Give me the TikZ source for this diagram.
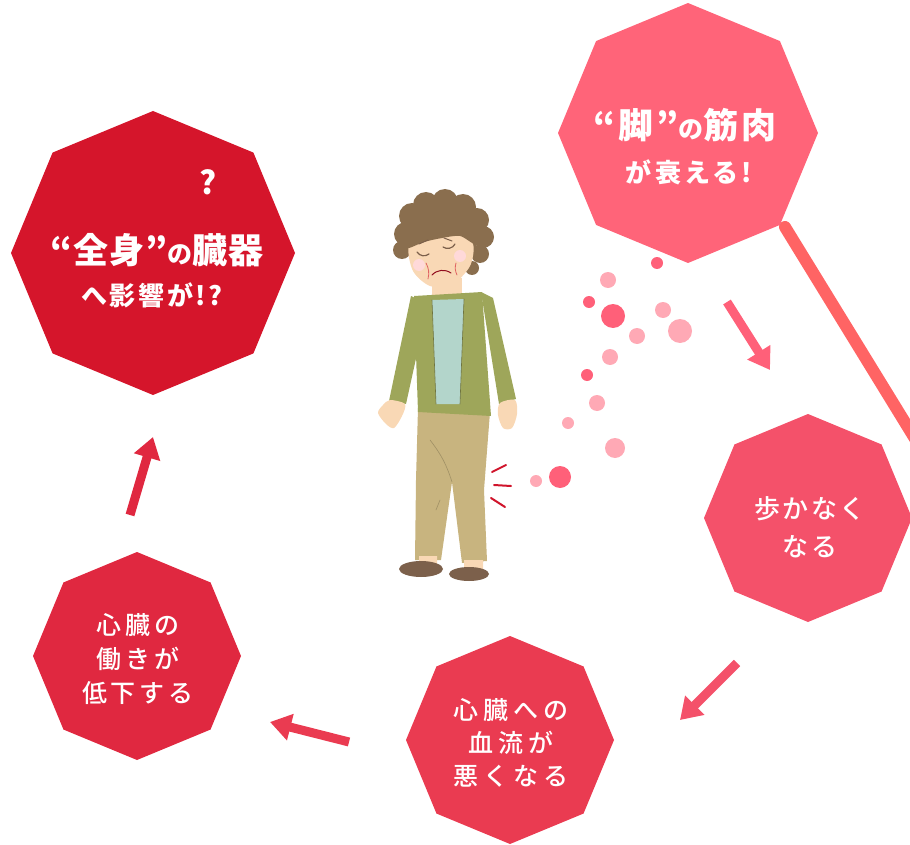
\documentclass[tikz,border=0pt]{standalone}
\usepackage{fontspec}
\newfontfamily\jp{Noto Sans CJK JP}
\newfontfamily\jpm{Noto Sans CJK JP Medium}
\usetikzlibrary{shapes.geometric,arrows.meta}

\definecolor{redA}{HTML}{D5152B}
\definecolor{redB}{HTML}{FF6479}
\definecolor{redC}{HTML}{F4516A}
\definecolor{redD}{HTML}{EA3B51}
\definecolor{redE}{HTML}{E02840}
\definecolor{dotdark}{HTML}{FF6079}
\definecolor{dotlight}{HTML}{FFA9B5}
\definecolor{coral}{HTML}{FF6464}
\definecolor{hair}{HTML}{8A6E4E}
\definecolor{skin}{HTML}{F9D8B5}
\definecolor{cardigan}{HTML}{9EA65A}
\definecolor{shirt}{HTML}{B3D5CB}
\definecolor{pants}{HTML}{C8B47F}
\definecolor{shoe}{HTML}{7C604B}
\definecolor{pain}{HTML}{D0142B}

\begin{document}
\begin{tikzpicture}[x=1pt,y=-1pt,line cap=round,line join=round,
  octa/.style={regular polygon,regular polygon sides=8,shape border rotate=22.5,inner sep=0pt,draw=none},
  txt/.style={text=white,align=center,inner sep=0pt,font=\jp\bfseries},
  step txt/.style={text=white,align=center,inner sep=0pt},
  flow/.style={line width=9pt,line cap=butt,-{Triangle[width=26pt,length=21pt]}},
  bub/.style={circle,inner sep=0pt,draw=none}]
\useasboundingbox (0,0) rectangle (910,845);
\clip (0,0) rectangle (910,845);

% stray stroke on the right
\draw[coral,line width=12pt] (785,227) -- (925,455);

% octagons
\node[octa,fill=redA,minimum size=284] (organs) at (153,253) {};
\node[octa,fill=redB,minimum size=260] (muscle) at (688,133) {};
\node[octa,fill=redC,minimum size=208] (walk) at (808,518) {};
\node[octa,fill=redD,minimum size=208] (blood) at (510,740) {};
\node[octa,fill=redE,minimum size=208] (heart) at (137,656) {};

\node[txt] (organsA) at (157,250) {\fontsize{35}{35}\selectfont\addfontfeatures{LetterSpace=3}“全身”{\fontsize{25}{25}\selectfont の}臓器};
\node[txt] (organsB) at (152,295) {\fontsize{26}{26}\selectfont\addfontfeatures{LetterSpace=10}へ影響が!?};
\node[txt] (organsQ) at (208,182) {\fontsize{32}{32}\selectfont ?};
\node[txt] (muscleA) at (685,125) {\fontsize{35}{35}\selectfont\addfontfeatures{LetterSpace=8}“脚”{\fontsize{25}{25}\selectfont の}筋肉};
\node[txt] (muscleB) at (689,172) {\fontsize{26}{26}\selectfont\addfontfeatures{LetterSpace=12}が衰える!};
\node[step txt,font=\jpm\fontsize{26}{38}\selectfont\addfontfeatures{LetterSpace=8}] (walkText) at (810,527) {歩かなく\\なる};
\node[step txt,font=\jpm\fontsize{25}{33}\selectfont\addfontfeatures{LetterSpace=20}] (bloodText) at (511,743) {心臓への\\血流が\\悪くなる};
\node[step txt,font=\jpm\fontsize{25}{34}\selectfont\addfontfeatures{LetterSpace=16}] (heartText) at (138,659) {心臓の\\働きが\\低下する};

% arrows between the steps
\coordinate (a1) at (727,302); \coordinate (b1) at (770,370);
\coordinate (a2) at (737,663); \coordinate (b2) at (680,720);
\coordinate (a3) at (349,742); \coordinate (b3) at (270,722);
\coordinate (a4) at (130,515); \coordinate (b4) at (153,437);
\draw[flow,dotdark] (a1) -- (b1);
\draw[flow,redC] (a2) -- (b2);
\draw[flow,redD] (a3) -- (b3);
\draw[flow,redE] (a4) -- (b4);

% bubbles from the knee
\foreach \x/\y/\r/\c in {657/263/6/dotdark,608/280/8/dotlight,589/302/6/dotdark,613/316/12/dotdark,
  663/310/8/dotlight,680/331/12/dotlight,637/336/8/dotlight,610/357/8/dotlight,587/375/6/dotdark,
  597/403/8/dotlight,568/423/6/dotlight,615/448/10/dotlight,560/477/11/dotdark,536/481/6/dotlight}
  \fill[\c] (\x,\y) circle[radius=\r];

% woman: curly hair
\foreach \x/\y/\r in {406/234/12,412/216/13,426/205/13,445/202/13,463/207/13,477/220/12,483/237/11,480/254/9,
  472/268/7,402/250/9}
  \fill[hair] (\x,\y) circle[radius=\r];
\fill[hair] (442,238) ellipse[x radius=36,y radius=28];
\fill[skin] (432,278) rectangle (462,303);
\fill[skin] plot[smooth cycle] coordinates {(409,246) (428,234) (458,231) (473,244) (470,266) (452,285) (430,286) (413,271)};
\fill[hair] plot[smooth cycle] coordinates {(407,248) (418,230) (445,222) (470,228) (475,244) (460,236) (442,238) (424,242)};
\fill[pink!60] (419,265) circle[radius=6] (460,256) circle[radius=6];
\draw[shoe,line width=1.2pt] (417,252) to[bend right=50] (429,254);
\draw[shoe,line width=1.2pt] (443,247) to[bend right=50] (455,244);
\draw[shoe,line width=1pt] (419,244) -- (428,240) (444,238) -- (452,241);
\draw[pain!70!black,line width=1pt] (432,275) to[bend left=40] (451,273);
\draw[pain!60!skin,line width=0.8pt] (426,263) to[bend left=20] (428,279) (456,263) to[bend right=20] (457,275);
% arms
\fill[cardigan] (411,296) -- (428,304) -- (406,404) -- (389,401) -- cycle;
\fill[cardigan] (481,292) -- (493,298) -- (516,399) -- (499,404) -- cycle;
\fill[skin] plot[smooth cycle] coordinates {(390,400) (405,404) (402,416) (394,428) (386,424) (378,413) (383,405)};
\fill[skin] plot[smooth cycle] coordinates {(500,403) (515,400) (517,414) (512,428) (503,428) (498,415)};
% trousers and shoes
\fill[pants] (418,408) -- (490,412) -- (484,490) -- (487,561) -- (462,563) -- (452,482) -- (441,560) -- (415,560) -- (416,480) -- cycle;
\draw[pants!80!black,line width=0.6pt] (430,440) to[bend left=10] (452,482) (440,500) -- (436,510);
\fill[skin] (419,556) rectangle (437,566) (464,560) rectangle (483,570);
\fill[shoe] (421,569) ellipse[x radius=22,y radius=8];
\fill[shoe] (469,574) ellipse[x radius=20,y radius=7];
% cardigan and shirt
\fill[cardigan] (414,296) -- (482,292) -- (491,416) -- (418,412) -- cycle;
\fill[shirt] (432,300) -- (464,299) -- (460,404) -- (436,404) -- cycle;
\draw[cardigan!70!black,line width=0.6pt] (432,300) -- (436,404) (464,299) -- (460,404);

% pain marks at the knee
\draw[pain,line width=2pt] (492,472) -- (506,465) (494,485) -- (511,486) (491,498) -- (505,507);
\end{tikzpicture}
\end{document}
